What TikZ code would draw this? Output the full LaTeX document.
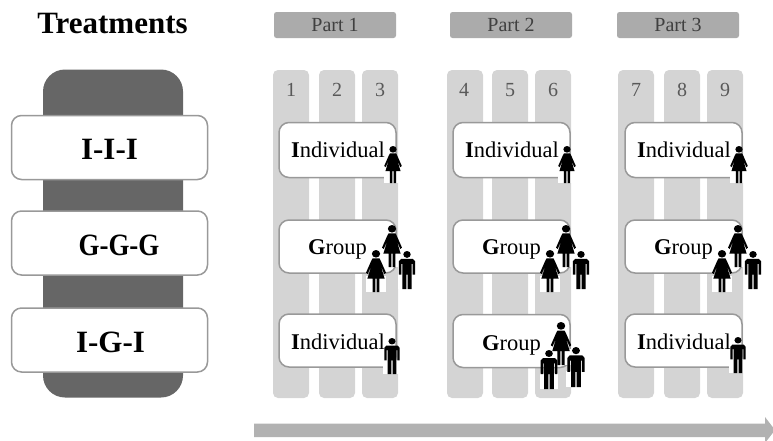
\documentclass[tikz,border=0pt]{standalone}
\usepackage{fontspec}
\setmainfont{Liberation Serif}
\definecolor{darkblock}{gray}{0.40}
\definecolor{colgray}{gray}{0.83}
\definecolor{partgray}{gray}{0.67}
\definecolor{edgegray}{gray}{0.60}
\definecolor{arrowgray}{gray}{0.70}
\definecolor{numgray}{gray}{0.35}
\tikzset{
  darkblock/.style={rectangle,rounded corners=22pt,fill=darkblock,inner sep=0pt,minimum width=140pt,minimum height=328pt},
  treatbox/.style={rectangle,rounded corners=10pt,draw=edgegray,line width=1.5pt,fill=white,inner sep=0pt,minimum width=196pt,minimum height=64pt},
  treatlabel/.style={inner sep=0pt,anchor=base,font=\fontsize{31}{31}\selectfont\bfseries},
  column/.style={rectangle,rounded corners=5pt,fill=colgray,inner sep=0pt,minimum width=36pt,minimum height=328pt},
  numlabel/.style={inner sep=0pt,text=numgray,font=\fontsize{20}{20}\selectfont},
  parthead/.style={rectangle,rounded corners=2.5pt,fill=partgray,inner sep=0pt,minimum width=122pt,minimum height=26pt,text=black!75,font=\fontsize{20}{20}\selectfont},
  decbox/.style={rectangle,rounded corners=10pt,draw=edgegray,line width=1.5pt,fill=white,inner sep=0pt,minimum width=117pt,minimum height=55pt},
  dectext/.style={inner sep=0pt,anchor=base west,font=\fontsize{22.5}{22.5}\selectfont},
  woman/.pic={
    \fill[white] (-.29,.62) rectangle (.29,1.01);
    \fill[black] (0,.09) circle [x radius=.12,y radius=.09];
    \fill[black] (-.10,.20) -- (.10,.20) -- (.14,.26) -- (.29,.54) -- (.24,.57) -- (.13,.36) -- (.25,.68) -- (.10,.68) -- (.10,1) -- (.02,1) -- (.02,.68) -- (-.02,.68) -- (-.02,1) -- (-.10,1) -- (-.10,.68) -- (-.25,.68) -- (-.13,.36) -- (-.24,.57) -- (-.29,.54) -- (-.14,.26) -- cycle;
  },
  man/.pic={
    \fill[white] (-.29,.60) rectangle (.29,1.01);
    \fill[black] (0,.09) circle [x radius=.12,y radius=.09];
    \fill[black] (-.19,.21) -- (.19,.21) -- (.26,.27) -- (.26,.62) -- (.18,.62) -- (.18,.34) -- (.15,.34) -- (.15,1) -- (.02,1) -- (.02,.62) -- (-.02,.62) -- (-.02,1) -- (-.15,1) -- (-.15,.34) -- (-.18,.34) -- (-.18,.62) -- (-.26,.62) -- (-.26,.27) -- cycle;
  },
}
\newcommand{\figat}[4]{\pic[xscale=#4*0.82,yscale=#4] at (#2,#3) {#1};}
\begin{document}
\begin{tikzpicture}[x=1pt,y=-1pt]
\useasboundingbox (0,0) rectangle (773,440);
% left block
\node[treatlabel] (title) at (112.5,33) {Treatments};
\node[darkblock] (dark) at (113,233.5) {};
\node[treatbox] (t1) at (109.5,147.5) {}; \node[treatlabel] (t1t) at (109.5,159) {I-I-I};
\node[treatbox] (t2) at (109.5,243) {}; \node[treatlabel] (t2t) at (119,255) {\scalebox{.87}[1]{G-G-G}};
\node[treatbox] (t3) at (109.5,340) {}; \node[treatlabel] (t3t) at (110.5,352) {I-G-I};
% part headers
\node[parthead] (p1) at (335,25) {Part 1};
\node[parthead] (p2) at (511,25) {Part 2};
\node[parthead] (p3) at (678,25) {Part 3};
% columns
\foreach \n/\x/\lab/\lx in {c1/291/1/291,c2/337/2/337,c3/380/3/380,c4/465/4/464,c5/510/5/510,c6/553/6/553,c7/636/7/636,c8/682/8/682,c9/725/9/725}{
  \node[column] (\n) at (\x,234) {};
  \node[numlabel] (\n l) at (\lx,90) {\lab};
}
% decision boxes
\foreach \n/\x/\y/\h in {a1/337.5/150/55,a2/337.5/246.5/53,a3/337.5/340.5/53,b1/511.5/150/55,b2/511.5/246.5/53,b3/511.5/341/53,d1/683.5/150/55,d2/683.5/246.5/53,d3/683.5/340.5/53}{
  \node[decbox,minimum height=\h pt] (\n) at (\x,\y) {};
}
% texts
\node[dectext] (a1t) at (291,157) {\textbf{I}ndividual};
\node[dectext] (a2t) at (308,254) {\textbf{G}roup};
\node[dectext] (a3t) at (291,349) {\textbf{I}ndividual};
\node[dectext] (b1t) at (465,157) {\textbf{I}ndividual};
\node[dectext] (b2t) at (482,254) {\textbf{G}roup};
\node[dectext] (b3t) at (482,350) {\textbf{G}roup};
\node[dectext] (d1t) at (637,157) {\textbf{I}ndividual};
\node[dectext] (d2t) at (654,254) {\textbf{G}roup};
\node[dectext] (d3t) at (637,349) {\textbf{I}ndividual};
% figures: type, x, top, height
\figat{woman}{393}{146}{37}
\figat{woman}{567}{146}{37}
\figat{woman}{739}{146}{37}
\figat{woman}{392}{225}{42}
\figat{man}{407}{251}{38}
\figat{woman}{376}{250}{42}
\figat{woman}{566}{225}{42}
\figat{man}{581}{251}{38}
\figat{woman}{550}{250}{42}
\figat{woman}{738}{225}{42}
\figat{man}{753}{251}{38}
\figat{woman}{722}{250}{42}
\figat{woman}{561}{322}{43}
\figat{man}{576}{347}{40}
\figat{man}{549}{350}{39}
\figat{man}{392}{338}{36}
\figat{man}{738}{337}{36}
% time arrow
\fill[arrowgray] (254,423.5) -- (765,423.5) -- (765,417) -- (775,430) -- (765,443) -- (765,437) -- (254,437) -- cycle;
\end{tikzpicture}
\end{document}
